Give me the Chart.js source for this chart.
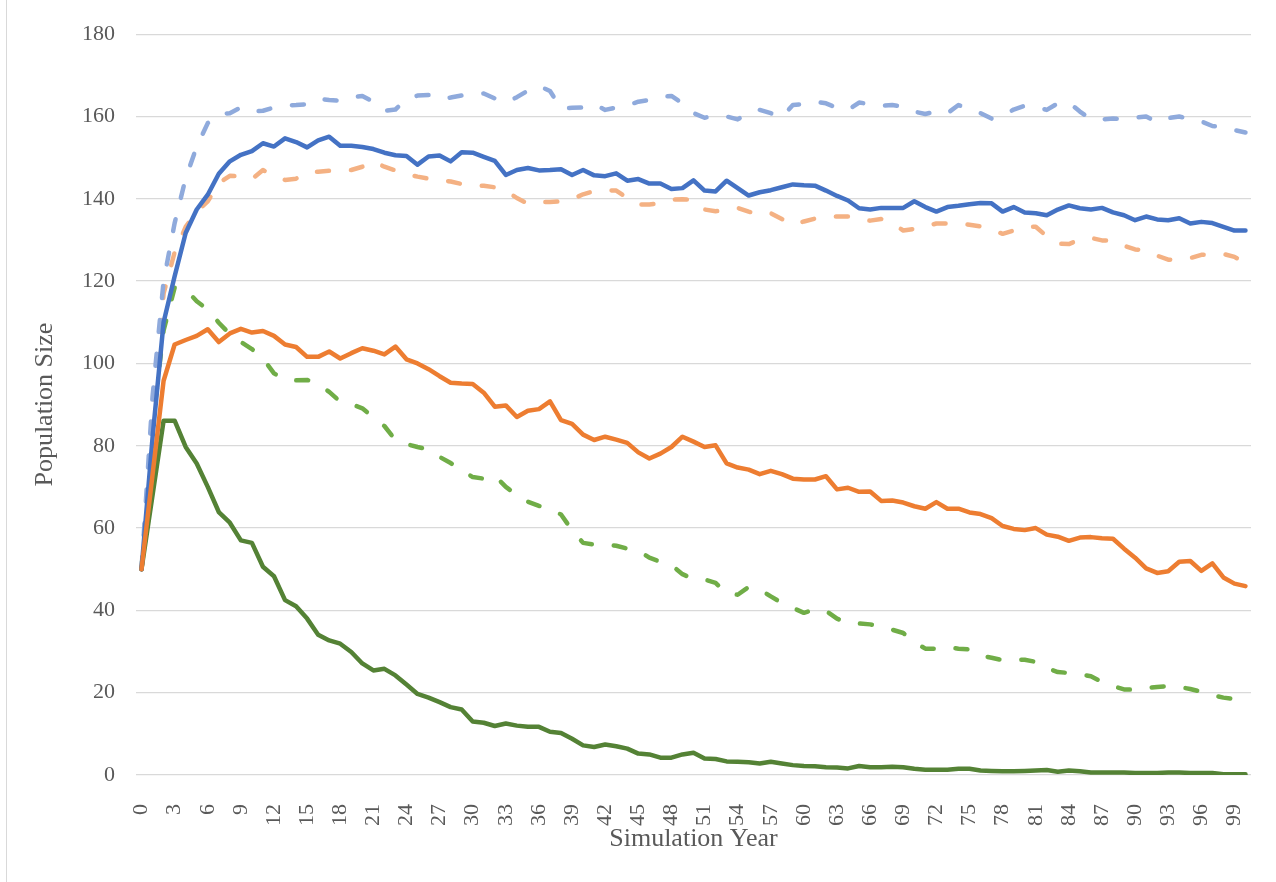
<!DOCTYPE html>
<html lang="en">
<head>
  <meta charset="UTF-8" />
  <title>Population Size by Simulation Year</title>
  <script src="https://cdn.jsdelivr.net/npm/chart.js"></script>
  <style>
    body { margin: 0; background: #ffffff; }
    .wrap { position: relative; width: 1276px; height: 882px; }
    .edge { position: absolute; left: 6px; top: 0; width: 1px; height: 882px; background: #d9d9d9; }
    canvas { position: absolute; left: 0; top: 0; }
  </style>
</head>
<body>
  <div class="wrap">
    <div class="edge"></div>
    <canvas id="popChart" width="1276" height="882"></canvas>
  </div>
  <script>
    // simulation years 0..100 (x categories)
    const years = Array.from({ length: 101 }, (_, i) => i);

    const blueSolid = [50, 82, 110, 121.2, 131.7, 137.4, 141, 146.1, 149.1, 150.7,
      151.6, 153.5, 152.7, 154.7, 153.8, 152.5, 154.2, 155.1, 152.9, 152.9,
      152.6, 152.1, 151.2, 150.6, 150.4, 148.3, 150.3, 150.5, 149.1, 151.3,
      151.2, 150.2, 149.2, 145.8, 147.0, 147.5, 146.9, 147.0, 147.2, 145.8,
      147.0, 145.7, 145.5, 146.2, 144.4, 144.8, 143.7, 143.7, 142.4, 142.6,
      144.5, 142.0, 141.8, 144.4, 142.6, 140.8, 141.6, 142.1, 142.8, 143.5,
      143.3, 143.2, 142.0, 140.7, 139.6, 137.7, 137.4, 137.8, 137.8, 137.8,
      139.4, 138.0, 136.9, 138.0, 138.3, 138.7, 139.0, 138.9, 136.9, 138.0,
      136.7, 136.5, 136.0, 137.4, 138.4, 137.7, 137.4, 137.8, 136.7, 136.0,
      134.8, 135.7, 135.0, 134.8, 135.3, 134.0, 134.4, 134.1, 133.2, 132.3, 132.3];

    const blueDashed = [50, 92, 120, 134.1, 145, 152.7, 158.4, 160.6, 160.8, 162.2,
      161.2, 161.4, 162.2, 162.7, 162.8, 163, 164.3, 164, 163.8, 164.7,
      165, 163.6, 161.4, 161.7, 164.2, 165.1, 165.2, 164.2, 164.6, 165.1,
      165.3, 165.6, 164.4, 163.4, 164.7, 166.3, 167.4, 166.2, 162.0, 162.1,
      162.2, 163.0, 161.6, 162.2, 162.7, 163.6, 164.0, 164.8, 165.0, 163.2,
      160.8, 159.7, 160.2, 160.0, 159.3, 160.9, 161.6, 160.8, 159.8, 162.8,
      163.0, 163.6, 163.2, 162.1, 161.6, 163.4, 163.0, 162.6, 162.8, 162.4,
      161.2, 160.6, 161.3, 160.8, 162.8, 161.8, 160.8, 159.5, 160.1, 161.7,
      162.6, 162.4, 161.6, 163.2, 163.4, 161.2, 159.3, 159.3, 159.5, 159.4,
      159.7, 160.0, 158.6, 159.6, 160.0, 159.4, 158.8, 157.7, 157.4, 156.7, 156.1];

    const orangeSolid = [50, 73, 95.8, 104.6, 105.7, 106.7, 108.3, 105.2, 107.3, 108.4,
      107.5, 107.9, 106.7, 104.6, 104.0, 101.6, 101.6, 102.9, 101.2, 102.5,
      103.7, 103.1, 102.2, 104.1, 101.0, 100.0, 98.6, 96.9, 95.3, 95.1,
      95.0, 92.9, 89.5, 89.8, 87.0, 88.5, 88.9, 90.8, 86.2, 85.3,
      82.7, 81.4, 82.2, 81.5, 80.7, 78.4, 76.9, 78.1, 79.7, 82.2,
      81.0, 79.7, 80.1, 75.7, 74.7, 74.2, 73.1, 73.9, 73.1, 72.0,
      71.8, 71.8, 72.6, 69.4, 69.8, 68.8, 68.9, 66.6, 66.7, 66.2,
      65.3, 64.7, 66.3, 64.7, 64.7, 63.8, 63.4, 62.4, 60.5, 59.8,
      59.5, 60.0, 58.4, 57.9, 56.9, 57.7, 57.8, 57.5, 57.4, 55.0,
      52.8, 50.2, 49.1, 49.5, 51.8, 52.0, 49.6, 51.4, 48.0, 46.5, 45.9];

    const orangeDashed = [50, 85, 117, 127, 133.2, 136.9, 139.4, 143.8, 145.6, 145.4,
      144.8, 147.0, 145.6, 144.6, 144.9, 146.4, 146.6, 146.8, 146.8, 147.0,
      147.8, 149.1, 147.8, 146.9, 146.0, 145.4, 144.9, 144.6, 144.2, 143.6,
      143.2, 143.2, 142.8, 142.0, 140.2, 138.8, 139.2, 139.2, 139.4, 139.9,
      141.1, 141.9, 142.1, 142.0, 140.2, 138.6, 138.6, 139.0, 139.8, 139.9,
      139.7, 137.4, 137.0, 137.2, 137.8, 136.9, 136.1, 136.5, 135.1, 133.7,
      134.5, 135.2, 135.6, 135.7, 135.7, 134.9, 134.7, 135.1, 134.0, 132.3,
      132.7, 133.3, 134.0, 134.0, 134.0, 133.7, 133.3, 132.5, 131.5, 132.3,
      133.2, 133.2, 130.9, 129.1, 129.0, 130.1, 130.5, 129.9, 129.9, 128.6,
      127.7, 127.5, 126.2, 125.2, 125.3, 125.6, 126.4, 126.4, 126.6, 125.9, 124.4];

    const greenDashed = [50, 85, 108, 118.4, 118.0, 115.1, 113.1, 109.9, 107.1, 105.2,
      103.5, 101.2, 97.6, 96.0, 95.9, 96.0, 95.0, 93.1, 90.7, 90.1,
      89.1, 86.9, 84.8, 81.4, 80.4, 79.7, 79.1, 77.3, 75.8, 74.1,
      72.4, 72.0, 72.7, 70.0, 68.0, 66.4, 65.4, 64.5, 63.3, 59.5,
      56.4, 56.0, 56.0, 55.7, 55.0, 54.5, 52.8, 51.8, 51.0, 48.8,
      47.6, 47.5, 46.7, 44.1, 43.8, 45.7, 45.1, 43.4, 41.8, 40.6,
      39.4, 40.2, 39.9, 38.0, 36.8, 36.8, 36.6, 36.1, 35.3, 34.5,
      32.3, 30.7, 30.7, 31.1, 30.7, 30.5, 29.0, 28.5, 27.9, 28.0,
      28.0, 27.5, 26.0, 25.0, 24.8, 24.5, 24.0, 22.6, 21.6, 20.8,
      20.7, 21.1, 21.4, 21.6, 21.4, 20.9, 20.2, 19.4, 18.8, 18.5, 17.7];

    const greenSolid = [50, 68, 86.1, 86.1, 79.7, 75.7, 70, 63.9, 61.3, 57,
      56.4, 50.6, 48.3, 42.5, 41, 38, 34.1, 32.7, 31.9, 29.9,
      27.1, 25.4, 25.8, 24.2, 22, 19.7, 18.8, 17.7, 16.5, 15.9,
      13.0, 12.7, 11.9, 12.5, 12.0, 11.7, 11.7, 10.5, 10.2, 8.8,
      7.2, 6.8, 7.4, 7.0, 6.4, 5.2, 5.0, 4.2, 4.2, 5.0,
      5.4, 4.0, 3.9, 3.3, 3.2, 3.1, 2.8, 3.2, 2.8, 2.4,
      2.2, 2.1, 1.9, 1.8, 1.6, 2.2, 1.9, 1.9, 2.0, 1.9,
      1.5, 1.3, 1.3, 1.3, 1.5, 1.5, 1.1, 1.0, 0.9, 0.9,
      1.0, 1.1, 1.2, 0.8, 1.1, 0.9, 0.6, 0.6, 0.6, 0.6,
      0.5, 0.5, 0.5, 0.6, 0.6, 0.5, 0.5, 0.5, 0.2, 0.2, 0.2];

    const yTicks = { min: 0, max: 180, step: 20 };
    const labelEvery = 3;

    const serif = '"Liberation Serif", "Times New Roman", serif';
    const grey = '#595959';

    function line(label, data, color, dashed) {
      return {
        label: label,
        data: data,
        borderColor: color,
        backgroundColor: color,
        borderWidth: 4.5,
        borderDash: dashed ? [12, 22] : [],
        borderCapStyle: 'round',
        borderJoinStyle: 'round',
        pointRadius: 0,
        tension: 0,
        fill: false
      };
    }

    const ctx = document.getElementById('popChart').getContext('2d');
    new Chart(ctx, {
      type: 'line',
      data: {
        labels: years,
        datasets: [
          line('Orange solid', orangeSolid, '#ED7D31', false),
          line('Blue solid', blueSolid, '#4472C4', false),
          line('Green solid', greenSolid, '#548235', false),
          line('Blue dashed', blueDashed, '#8FAADC', true),
          line('Orange dashed', orangeDashed, '#F4B183', true),
          line('Green dashed', greenDashed, '#70AD47', true)
        ]
      },
      options: {
        responsive: false,
        animation: false,
        layout: { padding: { top: 34, right: 25, left: 0, bottom: 0 } },
        plugins: { legend: { display: false }, tooltip: { enabled: false } },
        scales: {
          x: {
            type: 'category',
            offset: true,
            grid: { display: false },
            border: { display: false },
            ticks: {
              autoSkip: false,
              minRotation: 90,
              maxRotation: 90,
              padding: 21,
              color: grey,
              font: { family: serif, size: 22 },
              callback: function (val, i) { return i % labelEvery === 0 ? years[i] : ''; }
            },
            title: {
              display: true,
              text: 'Simulation Year',
              color: grey,
              font: { family: serif, size: 26 },
              padding: { top: 0, bottom: 27 }
            },
            afterFit: function (s) {
              s.height = 107;
              s.paddingLeft = 0;
              s.paddingRight = 0;
            }
          },
          y: {
            min: yTicks.min,
            max: yTicks.max,
            grid: { color: '#d9d9d9', lineWidth: 1.3, drawTicks: false },
            border: { display: false },
            ticks: {
              stepSize: yTicks.step,
              padding: 21,
              color: grey,
              font: { family: serif, size: 22 }
            },
            title: {
              display: true,
              text: 'Population Size',
              color: grey,
              font: { family: serif, size: 26 },
              padding: { top: 30, bottom: 0 }
            },
            afterFit: function (s) { s.width = 136; }
          }
        }
      }
    });
  </script>
</body>
</html>
